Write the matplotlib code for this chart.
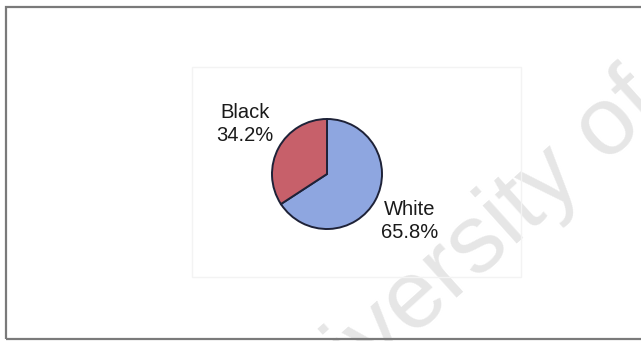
import matplotlib.pyplot as plt
from matplotlib.patches import Rectangle

# data
labels = ['White', 'Black']
shares = [65.8, 34.2]
colors = ['#8ea6e0', '#c7606a']

W, H = 641, 341
fig = plt.figure(figsize=(W / 100, H / 100), dpi=100)
ax = fig.add_axes([0, 0, 1, 1])

plt.rcParams['font.family'] = ['Liberation Sans', 'DejaVu Sans']

cx, cy, r = 327, H - 174, 55
wedges, _ = ax.pie(shares, colors=colors, startangle=90, counterclock=False,
                   center=(cx, cy), radius=r, frame=True,
                   wedgeprops=dict(edgecolor='#1e2238', linewidth=1.4))

# labels (Excel-style, outside the pie)
ax.text(245, H - 124, f'{labels[1]}\n{shares[1]:.1f}%', ha='center', va='center',
        fontsize=14.5, color='#1a1a1a', linespacing=1.3)
ax.text(410, H - 221, f'{labels[0]}\n{shares[0]:.1f}%', ha='center', va='center',
        fontsize=14.5, color='#1a1a1a', linespacing=1.3)

# faint plot area and chart border
ax.add_patch(Rectangle((192, H - 277), 329, 210, fill=False, edgecolor='#f3f3f3', lw=1))
ax.add_patch(Rectangle((6, H - 339), 700, 332, fill=False, edgecolor='#7a7a7a', lw=1.6))

# scan watermark
ax.text(665, H - 110, 'University of', rotation=42, ha='right', va='baseline',
        fontsize=70, color='#e6e6e6', zorder=0, rotation_mode='anchor')

ax.set_xlim(0, W)
ax.set_ylim(0, H)
ax.set_aspect('equal')
ax.axis('off')

fig.savefig('out.png', dpi=100)
